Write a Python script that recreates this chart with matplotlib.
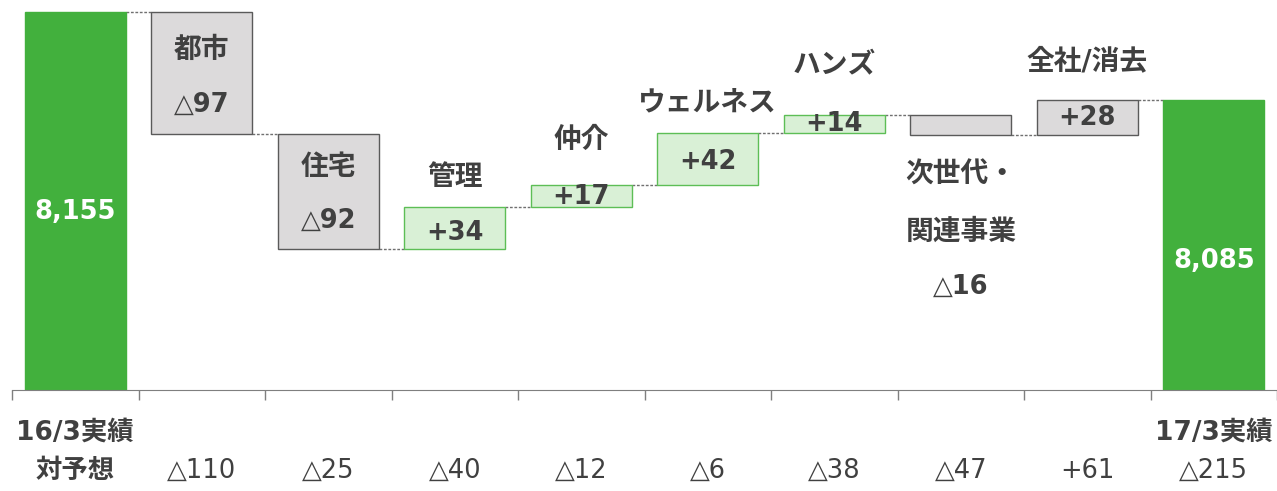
import numpy as np
import matplotlib.pyplot as plt

# データ
start_label = '16/3実績'
end_label = '17/3実績'
start_value = 8155
end_value = 8085
names = ['都市', '住宅', '管理', '仲介', 'ウェルネス', 'ハンズ', '次世代・\n関連事業', '全社/消去']
deltas = [-97, -92, 34, 17, 42, 14, -16, 28]
vs_plan = ['△110', '△25', '△40', '△12', '△6', '△38', '△47', '+61', '△215']
vs_plan_title = '対予想'

plt.rcParams['font.family'] = ['DejaVu Sans', 'Noto Sans CJK JP']

TXT = '#404040'
GREEN = '#42B03D'
LGREEN = '#D9F0D6'
LGREEN_EDGE = '#5DBE56'
GREY = '#DCDADB'
GREY_EDGE = '#5A5A5A'
FS = 18.5
FS_NAME = 20


def px(v):
    return v * 72 / 100


def fmt(d):
    return ('+%d' % d) if d > 0 else ('△%d' % -d)


fig = plt.figure(figsize=(12.77, 4.91), dpi=100)
ax = fig.add_axes([12 / 1277, 1 - 390 / 491, 1265 / 1277, 390 / 491])

n = len(deltas) + 2
x = np.arange(n)
ymin = 7854.2
ymax = 8164.5

# 積み上げ計算
levels = [start_value]
for d in deltas:
    levels.append(levels[-1] + d)

bottoms = [ymin - 100]
heights = [start_value - (ymin - 100)]
faces = [GREEN]
edges = [GREEN]
for i, d in enumerate(deltas):
    lo = min(levels[i], levels[i + 1])
    bottoms.append(lo)
    heights.append(abs(d))
    if d > 0 and names[i] != '全社/消去':
        faces.append(LGREEN)
        edges.append(LGREEN_EDGE)
    else:
        faces.append(GREY)
        edges.append(GREY_EDGE)
bottoms.append(ymin - 100)
heights.append(end_value - (ymin - 100))
faces.append(GREEN)
edges.append(GREEN)

ax.bar(x, heights, bottom=bottoms, width=0.8, color=faces, edgecolor=edges, linewidth=1.0, zorder=2)

# 接続線
tops = [b + h for b, h in zip(bottoms, heights)]
for i in range(n - 1):
    lvl = levels[i] if i < len(levels) else end_value
    ax.plot([i + 0.4, i + 0.6], [lvl, lvl], color='#707070', lw=1.0,
            dashes=(2, 1.2), zorder=1)

# バー内・上のラベル（バー上端からのピクセル位置）
name_dy = [38, 33, -30, -45, -30, -50, 88, -39]
value_dy = [200, 93, 87, 26, 12, 29, 9, 172, 18, 161]

for i in range(n):
    if i == 0:
        s, col = format(start_value, ','), 'white'
    elif i == n - 1:
        s, col = format(end_value, ','), 'white'
    else:
        s, col = fmt(deltas[i - 1]), TXT
    ax.annotate(s, xy=(i, tops[i]), xytext=(0, -px(value_dy[i])), textcoords='offset points',
                ha='center', va='center', fontsize=FS, fontweight='bold', color=col, zorder=3)

for i, nm in enumerate(names):
    ax.annotate(nm, xy=(i + 1, tops[i + 1]), xytext=(0, -px(name_dy[i])), textcoords='offset points',
                ha='center', va='center', fontsize=FS_NAME, fontweight='bold', color=TXT,
                linespacing=2.3, zorder=3)

# 下部ラベル
for i, s in [(0, start_label), (n - 1, end_label)]:
    ax.annotate(s, xy=(i, 0), xycoords=('data', 'axes fraction'), xytext=(0, -px(43)),
                textcoords='offset points', ha='center', va='center', fontsize=19,
                fontweight='bold', color=TXT, annotation_clip=False)
ax.annotate(vs_plan_title, xy=(0, 0), xycoords=('data', 'axes fraction'), xytext=(0, -px(81)),
            textcoords='offset points', ha='center', va='center', fontsize=19,
            fontweight='bold', color=TXT, annotation_clip=False)
for i, s in enumerate(vs_plan):
    ax.annotate(s, xy=(i + 1, 0), xycoords=('data', 'axes fraction'), xytext=(0, -px(81)),
                textcoords='offset points', ha='center', va='center', fontsize=FS,
                color=TXT, annotation_clip=False)

ax.set_xlim(-0.5, n - 0.5)
ax.set_ylim(ymin, ymax)
ax.set_yticks([])
ax.set_xticks(np.arange(-0.5, n, 1))
ax.set_xticklabels([])
ax.tick_params(axis='x', direction='out', length=px(10), width=1, color='#7f7f7f')
for sp in ['left', 'top', 'right']:
    ax.spines[sp].set_visible(False)
ax.spines['bottom'].set_color('#7f7f7f')
ax.patch.set_alpha(0)

fig.savefig('out.png', dpi=100)
